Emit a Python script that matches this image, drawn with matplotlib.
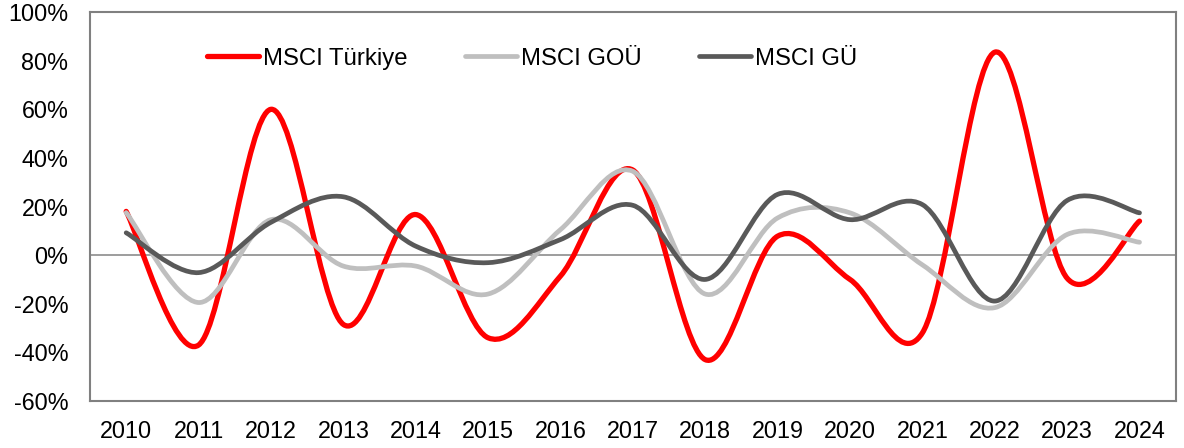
import matplotlib
matplotlib.use('Agg')
import matplotlib.pyplot as plt
from matplotlib.path import Path
from matplotlib.patches import PathPatch
from matplotlib.lines import Line2D
from matplotlib.ticker import FuncFormatter
import numpy as np

plt.rcParams['font.family'] = ['Liberation Sans', 'DejaVu Sans']

years = ['2010', '2011', '2012', '2013', '2014', '2015', '2016', '2017',
         '2018', '2019', '2020', '2021', '2022', '2023', '2024']
msci_turkiye = [18, -37, 60, -28.5, 16.7, -34, -8.6, 35, -43, 7.8, -10, -32, 83.5, -9.5, 14]
msci_gou = [17.5, -19.5, 14.6, -4.5, -4.5, -16, 10.5, 34.5, -16, 15.3, 17.4, -4, -21.6, 8.5, 5.3]
msci_gu = [9.2, -7.2, 13.5, 24, 3.7, -3.1, 6.4, 20.5, -10, 25, 14.6, 20.8, -18.9, 22.5, 17.4]


# Excel benzeri yumusak cizgi (Catmull-Rom -> Bezier)
def smooth_path(x, y):
    pts = np.column_stack([x, y]).astype(float)
    n = len(pts)
    verts = [pts[0]]
    codes = [Path.MOVETO]
    for i in range(n - 1):
        p0 = pts[i - 1] if i > 0 else pts[i]
        p1 = pts[i]
        p2 = pts[i + 1]
        p3 = pts[i + 2] if i + 2 < n else pts[i + 1]
        c1 = p1 + (p2 - p0) / 6.0
        c2 = p2 - (p3 - p1) / 6.0
        verts += [c1, c2, p2]
        codes += [Path.CURVE4] * 3
    return Path(verts, codes)


fig = plt.figure(figsize=(11.84, 4.48), dpi=100)
ax = fig.add_axes([0.076, 0.105, 0.917, 0.868])

x = np.arange(len(years))
ax.axhline(0, color='#8c8c8c', lw=1.2, zorder=1)

series = [
    ('MSCI Türkiye', msci_turkiye, '#ff0000', 3.8),
    ('MSCI GOÜ', msci_gou, '#bfbfbf', 3.4),
    ('MSCI GÜ', msci_gu, '#595959', 3.4),
]
handles = []
for name, vals, col, lw in series:
    patch = PathPatch(smooth_path(x, vals), facecolor='none', edgecolor=col,
                      lw=lw, capstyle='round', joinstyle='round', zorder=3)
    ax.add_patch(patch)
    handles.append(Line2D([], [], color=col, lw=lw, solid_capstyle='round', label=name))

ax.set_xlim(-0.5, len(years) - 0.5)
ax.set_ylim(-60, 100)
ax.set_yticks(np.arange(-60, 101, 20))
ax.yaxis.set_major_formatter(FuncFormatter(lambda v, p: '%d%%' % v))
ax.set_xticks(x)
ax.set_xticklabels(years)
ax.tick_params(axis='both', length=0, labelsize=16.8, colors='black')
ax.tick_params(axis='y', pad=15.5)
ax.tick_params(axis='x', pad=13.5)
for s in ax.spines.values():
    s.set_color('#808080')
    s.set_linewidth(1.5)

ax.legend(handles=handles, loc='center', bbox_to_anchor=(0.407, 0.88), ncol=3,
          frameon=False, fontsize=17.2, handlelength=2.2, handletextpad=0.15,
          columnspacing=2.4)

fig.savefig('out.png', dpi=100)
